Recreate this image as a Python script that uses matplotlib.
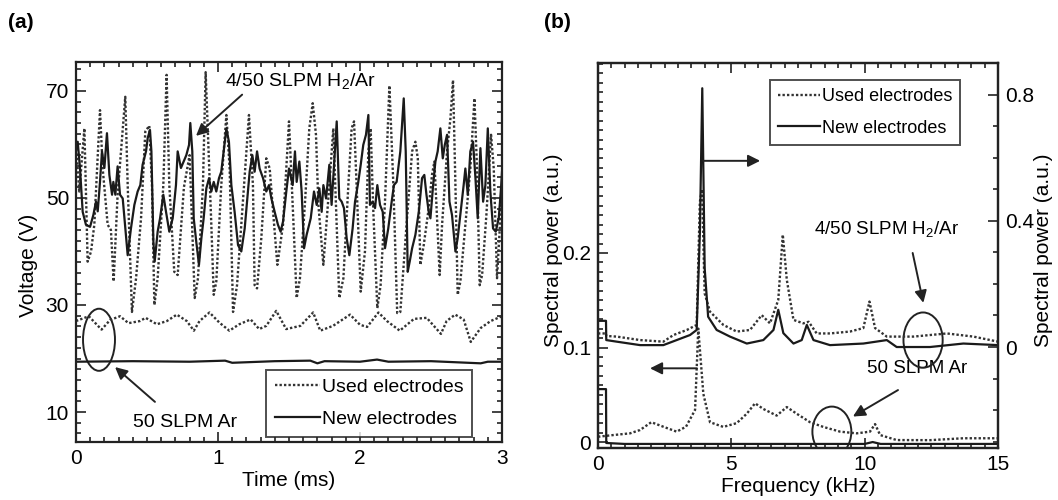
import matplotlib
matplotlib.use("Agg")
import matplotlib.pyplot as plt
from matplotlib.patches import Ellipse
from matplotlib.ticker import MultipleLocator

plt.rcParams['font.family'] = ['Liberation Sans', 'DejaVu Sans']
plt.rcParams['mathtext.fontset'] = 'custom'
plt.rcParams['mathtext.rm'] = 'Liberation Sans'

# ---------------- Panel (a) data: voltage traces (ms, V) ----------------
t_h2_used = [0.000, 0.023, 0.059, 0.082, 0.106, 0.129, 0.169, 0.188, 0.223, 0.246, 0.265,
             0.293, 0.347, 0.364, 0.394, 0.423, 0.458, 0.488, 0.516, 0.535, 0.552, 0.575,
             0.615, 0.638, 0.657, 0.692, 0.716, 0.760, 0.800, 0.836, 0.859, 0.894, 0.913,
             0.953, 0.970, 0.988, 1.023, 1.059, 1.082, 1.106, 1.134, 1.164, 1.218, 1.246,
             1.258, 1.275, 1.305, 1.340, 1.364, 1.388, 1.418, 1.458, 1.500, 1.530, 1.554,
             1.577, 1.613, 1.643, 1.667, 1.690, 1.707, 1.742, 1.784, 1.812, 1.824, 1.854,
             1.883, 1.918, 1.941, 1.958, 1.976, 2.005, 2.035, 2.059, 2.075, 2.094, 2.122,
             2.145, 2.176, 2.207, 2.235, 2.262, 2.284, 2.331, 2.367, 2.390, 2.407, 2.425,
             2.449, 2.484, 2.507, 2.524, 2.547, 2.561, 2.578, 2.613, 2.637, 2.655, 2.672,
             2.688, 2.707, 2.742, 2.777, 2.806, 2.824, 2.843, 2.860, 2.890, 2.923, 2.942,
             2.965, 3.000]
v_h2_used = [60.0, 51.2, 63.0, 38.1, 40.0, 45.0, 66.4, 55.5, 45.0, 44.0, 34.4,
             50.6, 68.9, 52.4, 28.7, 35.0, 46.2, 62.4, 63.5, 52.4, 30.0, 35.0,
             52.4, 73.0, 52.4, 36.2, 35.6, 52.0, 58.0, 31.3, 35.0, 52.4, 73.5,
             45.0, 31.9, 34.4, 52.4, 65.5, 55.5, 28.7, 33.7, 45.0, 65.5, 52.4,
             33.7, 33.1, 42.5, 57.4, 55.5, 47.4, 37.5, 45.0, 64.3, 46.2, 31.3,
             35.0, 49.3, 63.0, 67.7, 61.8, 48.7, 37.5, 52.4, 63.0, 53.7, 31.3,
             35.0, 52.4, 63.0, 64.3, 52.4, 32.5, 40.0, 58.7, 63.0, 47.4, 29.4,
             33.7, 49.3, 71.0, 52.4, 28.5, 28.7, 46.2, 58.7, 60.5, 57.4, 37.5,
             41.2, 48.1, 54.3, 56.8, 43.7, 35.6, 45.0, 58.7, 64.9, 72.0, 52.4,
             31.9, 34.4, 45.0, 55.5, 68.6, 55.5, 33.7, 35.6, 46.8, 61.8, 55.5,
             35.0, 52.0]

t_h2_new = [0.000, 0.012, 0.028, 0.047, 0.070, 0.099, 0.122, 0.141, 0.153, 0.169, 0.183,
            0.200, 0.218, 0.235, 0.254, 0.263, 0.277, 0.293, 0.310, 0.329, 0.345, 0.364,
            0.387, 0.411, 0.434, 0.453, 0.469, 0.493, 0.505, 0.521, 0.531, 0.545, 0.554,
            0.575, 0.592, 0.615, 0.634, 0.657, 0.681, 0.704, 0.716, 0.739, 0.777, 0.796,
            0.805, 0.819, 0.829, 0.847, 0.866, 0.883, 0.899, 0.918, 0.937, 0.953, 0.970,
            0.988, 1.007, 1.023, 1.040, 1.059, 1.077, 1.094, 1.117, 1.141, 1.164, 1.188,
            1.211, 1.223, 1.242, 1.258, 1.275, 1.293, 1.317, 1.340, 1.359, 1.376, 1.399,
            1.422, 1.441, 1.458, 1.481, 1.500, 1.526, 1.542, 1.554, 1.573, 1.589, 1.606,
            1.624, 1.653, 1.676, 1.695, 1.714, 1.730, 1.742, 1.761, 1.784, 1.800, 1.817,
            1.836, 1.854, 1.871, 1.887, 1.906, 1.925, 1.948, 1.965, 1.988, 2.005, 2.023,
            2.042, 2.059, 2.070, 2.089, 2.106, 2.122, 2.141, 2.160, 2.176, 2.199, 2.223,
            2.239, 2.258, 2.284, 2.308, 2.322, 2.336, 2.350, 2.367, 2.390, 2.414, 2.437,
            2.453, 2.468, 2.484, 2.496, 2.515, 2.531, 2.547, 2.566, 2.583, 2.597, 2.613,
            2.630, 2.648, 2.672, 2.688, 2.712, 2.730, 2.742, 2.759, 2.777, 2.796, 2.813,
            2.829, 2.848, 2.867, 2.883, 2.900, 2.918, 2.937, 2.956, 2.977, 2.993, 3.000]
v_h2_new = [59.0, 60.5, 55.6, 47.4, 45.0, 44.6, 46.8, 49.3, 47.5, 53.0, 58.7,
            55.6, 62.1, 54.3, 50.6, 53.0, 50.6, 55.9, 50.6, 49.9, 45.0, 39.3,
            44.3, 48.7, 51.2, 52.4, 56.2, 58.7, 61.2, 62.7, 58.7, 41.8, 38.1,
            43.7, 46.2, 50.6, 47.4, 43.7, 46.2, 52.4, 58.7, 55.6, 58.0, 59.9,
            64.0, 58.7, 46.2, 41.8, 37.5, 42.5, 46.2, 51.8, 53.7, 51.2, 53.0,
            51.2, 53.7, 54.9, 58.7, 63.0, 60.5, 52.4, 47.4, 41.2, 40.0, 44.3,
            51.2, 54.9, 58.0, 54.9, 58.7, 55.5, 53.7, 51.2, 52.4, 49.9, 47.4,
            45.0, 43.7, 45.6, 51.2, 55.5, 52.4, 58.7, 53.0, 56.8, 51.2, 40.6,
            43.1, 46.2, 51.2, 48.7, 51.8, 47.4, 52.4, 49.9, 56.2, 48.7, 56.2,
            64.3, 49.9, 49.3, 48.1, 42.5, 39.3, 44.3, 49.3, 53.0, 56.2, 59.9,
            61.8, 65.5, 48.7, 49.3, 48.1, 52.4, 48.7, 47.4, 40.6, 44.3, 49.3,
            52.4, 53.0, 58.7, 68.6, 58.7, 36.2, 38.1, 40.6, 43.1, 47.4, 53.7,
            54.3, 50.6, 47.4, 46.2, 52.4, 56.8, 58.7, 63.0, 57.4, 59.9, 61.8,
            49.3, 46.8, 40.0, 42.5, 48.1, 52.4, 55.5, 50.6, 58.7, 60.5, 53.7,
            46.2, 59.3, 49.3, 52.4, 63.0, 51.2, 44.3, 43.7, 46.2, 51.8, 54.9]

t_ar_used = [0.00, 0.09, 0.18, 0.24, 0.31, 0.37, 0.45, 0.49, 0.57, 0.64, 0.71, 0.78, 0.83,
             0.87, 0.94, 1.01, 1.08, 1.15, 1.23, 1.29, 1.34, 1.41, 1.48, 1.58, 1.67, 1.72,
             1.81, 1.93, 2.00, 2.05, 2.13, 2.19, 2.28, 2.38, 2.47, 2.57, 2.61, 2.67, 2.73,
             2.78, 2.85, 2.92, 3.00]
v_ar_used = [27.0, 27.9, 25.4, 27.2, 27.9, 26.6, 27.0, 27.6, 26.4, 27.0, 28.2, 27.0, 25.2,
             27.0, 28.6, 26.7, 25.2, 26.4, 27.3, 25.5, 26.1, 28.9, 25.5, 26.1, 28.6, 25.2,
             26.1, 28.2, 26.3, 25.9, 28.6, 27.0, 25.2, 27.4, 27.6, 24.6, 27.0, 28.2, 27.3,
             23.1, 25.7, 27.0, 27.9]

t_ar_new = [0.00, 0.40, 0.80, 1.05, 1.10, 1.40, 1.65, 1.70, 1.75, 2.00, 2.12, 2.20, 2.50,
            2.85, 2.90, 3.00]
v_ar_new = [19.4, 19.5, 19.4, 19.6, 19.2, 19.5, 19.6, 19.1, 19.5, 19.4, 19.8, 19.4, 19.5,
            19.1, 19.4, 19.4]

# ---------------- Panel (b) data: spectra (kHz, a.u.) ----------------
f_h2_used = [0.0, 0.3, 0.31, 0.7, 1.58, 2.45, 2.83, 3.33, 3.70, 3.82, 3.90, 4.00, 4.20,
             4.70, 5.20, 5.70, 6.14, 6.45, 6.76, 6.93, 7.08, 7.33, 7.70, 7.90, 8.20, 8.70,
             9.45, 9.95, 10.18, 10.39, 10.83, 11.83, 13.08, 14.08, 15.0]
p_h2_used = [0.043, 0.043, 0.035, 0.033, 0.022, 0.017, 0.038, 0.054, 0.070, 0.46, 0.50,
             0.17, 0.112, 0.070, 0.049, 0.054, 0.101, 0.075, 0.149, 0.356, 0.213, 0.086,
             0.075, 0.080, 0.043, 0.043, 0.049, 0.060, 0.144, 0.060, 0.033, 0.033, 0.043,
             0.033, 0.017]

f_h2_new = [0.0, 0.3, 0.31, 0.7, 1.58, 2.45, 2.95, 3.45, 3.70, 3.82, 3.91, 4.00, 4.13,
            4.45, 4.95, 5.58, 6.20, 6.58, 6.76, 6.95, 7.33, 7.64, 7.83, 8.08, 8.70, 9.95,
            10.83, 11.20, 12.45, 13.70, 15.0]
p_h2_new = [0.083, 0.083, 0.022, 0.017, 0.006, 0.006, 0.022, 0.038, 0.054, 0.36, 0.82,
            0.25, 0.096, 0.054, 0.033, 0.011, 0.022, 0.054, 0.118, 0.044, 0.011, 0.022,
            0.070, 0.022, 0.006, 0.011, 0.022, 0.000, 0.000, 0.011, 0.006]

f_ar_used = [0.0, 0.575, 1.2, 1.575, 2.0, 2.45, 2.95, 3.3, 3.64, 3.76, 3.95, 4.2, 4.7, 5.2,
             5.58, 5.89, 6.2, 6.7, 7.08, 7.45, 7.95, 8.45, 9.08, 9.7, 10.2, 10.39, 10.58,
             11.2, 12.45, 13.7, 15.0]
p_ar_used = [0.0056, 0.0074, 0.0092, 0.0127, 0.021, 0.0162, 0.011, 0.0162, 0.034, 0.12,
             0.051, 0.021, 0.016, 0.020, 0.030, 0.041, 0.035, 0.028, 0.037, 0.030, 0.021,
             0.016, 0.011, 0.0092, 0.011, 0.019, 0.0074, 0.0021, 0.002, 0.004, 0.004]

f_ar_new = [0.0, 0.3, 0.31, 1.0, 5.0, 10.0, 10.3, 10.6, 15.0]
p_ar_new = [0.056, 0.056, -0.001, -0.002, -0.002, -0.002, 0.0, -0.002, -0.002]

legend_labels = ['Used electrodes', 'New electrodes']

# ---------------- Figure ----------------
fig = plt.figure(figsize=(10.58, 5.0), dpi=100)
ax1 = fig.add_axes([76 / 1058, 1 - 442 / 500, 426 / 1058, 380 / 500])
ax2 = fig.add_axes([598 / 1058, 1 - 448 / 500, 400 / 1058, 385 / 500])
ax2r = ax2.twinx()

ink = '#222222'
dot_kw = dict(color='#333333', linestyle=(0, (1, 0.9)), linewidth=1.7)
sol_kw = dict(color='#1a1a1a', linestyle='-', linewidth=1.6)
arr = dict(arrowstyle='-|>', color=ink, lw=1.4, shrinkA=0, shrinkB=0, mutation_scale=18)

# Panel (a)
ax1.plot(t_h2_used, v_h2_used, **dot_kw, label=legend_labels[0])
ax1.plot(t_h2_new, v_h2_new, **sol_kw, label=legend_labels[1])
ax1.plot(t_ar_used, v_ar_used, **dot_kw)
ax1.plot(t_ar_new, v_ar_new, **sol_kw)
ax1.set_xlim(0, 3)
ax1.set_ylim(4.4, 75.4)
ax1.set_xticks([0, 1, 2, 3])
ax1.set_yticks([10, 30, 50, 70])
ax1.xaxis.set_minor_locator(MultipleLocator(0.1))
ax1.yaxis.set_minor_locator(MultipleLocator(2))
ax1.set_xlabel('Time (ms)', fontsize=15, labelpad=2)
ax1.set_ylabel('Voltage (V)', fontsize=15)
ax1.yaxis.set_label_coords((38 - 76) / 426, (442 - 265) / 380)
leg1 = ax1.legend(loc='lower right', bbox_to_anchor=((472 - 76) / 426, (442 - 437) / 380),
                  borderaxespad=0, fontsize=14, frameon=True, fancybox=False,
                  edgecolor=ink, handlelength=2.3, handletextpad=0.1, borderpad=0.45,
                  labelspacing=0.75)
leg1.get_frame().set_linewidth(1.4)
ax1.add_patch(Ellipse((0.162, 23.5), 0.225, 11.6, fill=False, edgecolor=ink, lw=1.4))
ax1.text(1.578, 71.7, '4/50 SLPM H$_2$/Ar', fontsize=14, ha='center', va='center',
         bbox=dict(boxstyle='square,pad=0.05', fc='white', ec='none'))
ax1.annotate('', xy=(0.845, 61.6), xytext=(1.17, 69.3), arrowprops=arr)
ax1.text(0.77, 8.1, '50 SLPM Ar', fontsize=14, ha='center', va='center')
ax1.annotate('', xy=(0.275, 18.4), xytext=(0.556, 11.9), arrowprops=arr)

# Panel (b)
ax2.plot(f_ar_used, p_ar_used, **dot_kw)
ax2.plot(f_ar_new, p_ar_new, **sol_kw)
ax2r.plot(f_h2_used, p_h2_used, **dot_kw, label=legend_labels[0])
ax2r.plot(f_h2_new, p_h2_new, **sol_kw, label=legend_labels[1])
ax2.set_xlim(0, 15)
ax2.set_ylim(-0.0063, 0.401)
ax2r.set_ylim(-0.32, 0.90)
ax2.set_xticks([0, 5, 10, 15])
ax2.set_yticks([0, 0.1, 0.2])
ax2.set_yticklabels(['0', '0.1', '0.2'])
ax2r.set_yticks([0, 0.4, 0.8])
ax2r.set_yticklabels(['0', '0.4', '0.8'])
ax2.xaxis.set_minor_locator(MultipleLocator(0.5))
ax2.yaxis.set_minor_locator(MultipleLocator(0.01))
ax2r.yaxis.set_minor_locator(MultipleLocator(0.1))
ax2.set_xlabel('Frequency (kHz)', fontsize=15, labelpad=2)
ax2.set_ylabel('Spectral power (a.u.)', fontsize=15)
ax2.yaxis.set_label_coords((563 - 598) / 400, (448 - 250) / 385)
ax2r.set_ylabel('Spectral power (a.u.)', fontsize=15)
ax2r.yaxis.set_label_coords((1034 - 598) / 400, (448 - 250) / 385)
leg2 = ax2r.legend(loc='upper right', bbox_to_anchor=((960 - 598) / 400, (448 - 80) / 385),
                   borderaxespad=0, fontsize=13, frameon=True, fancybox=False,
                   edgecolor=ink, handlelength=2.3, handletextpad=0.1, borderpad=0.45,
                   labelspacing=0.8)
leg2.get_frame().set_linewidth(1.4)

ax2r.annotate('', xy=(6.08, 0.59), xytext=(3.94, 0.59), arrowprops=arr)
ax2.annotate('', xy=(1.95, 0.078), xytext=(3.71, 0.078), arrowprops=arr)
ax2r.text(10.84, 0.371, '4/50 SLPM H$_2$/Ar', fontsize=13.5, ha='center', va='center')
ax2r.annotate('', xy=(12.2, 0.14), xytext=(11.8, 0.298), arrowprops=arr)
ax2r.add_patch(Ellipse((12.19, 0.022), 1.47, 0.175, fill=False, edgecolor=ink, lw=1.4))
ax2.text(11.96, 0.078, '50 SLPM Ar', fontsize=13.5, ha='center', va='center')
ax2.annotate('', xy=(9.56, 0.027), xytext=(11.25, 0.055), arrowprops=arr)
ax2.add_patch(Ellipse((8.77, 0.011), 1.46, 0.053, fill=False, edgecolor=ink, lw=1.4))

for ax in (ax1, ax2, ax2r):
    for s in ax.spines.values():
        s.set_linewidth(1.6)
        s.set_color(ink)

ax1.tick_params(which='both', direction='in', top=True, right=True, labelsize=15,
                width=1.2, color=ink, pad=5)
ax2.tick_params(which='both', direction='in', top=True, right=False, labelsize=15,
                width=1.2, color=ink, pad=5)
ax2r.tick_params(which='both', direction='in', labelsize=15, width=1.2, color=ink, pad=5)
for ax in (ax1, ax2, ax2r):
    ax.tick_params(which='major', length=7)
    ax.tick_params(which='minor', length=3.5)

fig.text(21 / 1058, 1 - 23 / 500, '(a)', fontsize=15, fontweight='bold', ha='center', va='center')
fig.text(557 / 1058, 1 - 23 / 500, '(b)', fontsize=15, fontweight='bold', ha='center', va='center')

fig.savefig('out.png', dpi=100, facecolor='white')
